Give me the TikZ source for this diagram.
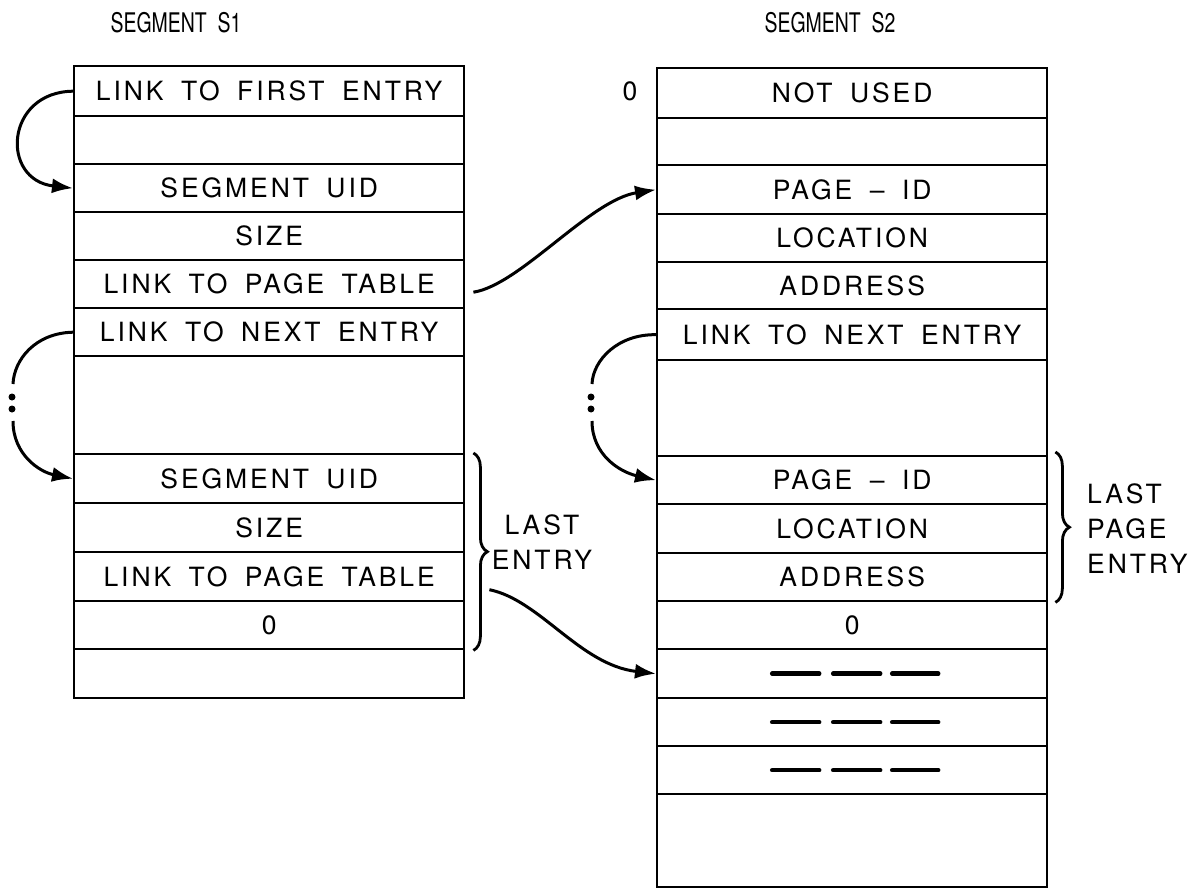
\documentclass[tikz,border=0pt]{standalone}
\usepackage{fontspec}
\setmainfont{TeX Gyre Heros}
\newfontfamily\rowfam[LetterSpace=11,WordSpace=1.7]{TeX Gyre Heros}
\usetikzlibrary{arrows.meta,decorations.pathreplacing,calc}
\begin{document}
\begin{tikzpicture}[x=1pt,y=-1pt,
  row/.style={draw, line width=2.4pt, minimum width=390pt, anchor=north west, inner sep=0pt,
    font=\rowfam\fontsize{26.5}{30}\selectfont},
  lbl/.style={font=\rowfam\fontsize{26.5}{35}\selectfont, inner sep=0pt},
  ttl/.style={font=\fontsize{27}{30}\selectfont, inner sep=0pt},
  link/.style={line width=3pt, -{Latex[length=21pt,width=15pt]}},
  plain/.style={line width=3pt},
  dashbar/.style={line width=4.5pt, line cap=round},
  brc/.style={decorate, decoration={brace, amplitude=14pt}, line width=2.8pt},
  dotmark/.style={circle, fill, inner sep=0pt, minimum size=7pt}
]
\useasboundingbox (0,0) rectangle (1192,888);

% titles
\node[ttl] (t1) at (176,23) {\scalebox{0.72}[1]{SEGMENT\ \ S1}};
\node[ttl] (t2) at (830,23) {\scalebox{0.72}[1]{SEGMENT\ \ S2}};

% segment S1
\node[row, minimum height=50pt] (l1) at (73,65) {LINK TO FIRST ENTRY};
\node[row, minimum height=48pt] (l2) at (73,115) {};
\node[row, minimum height=48pt] (l3) at (73,163) {SEGMENT UID};
\node[row, minimum height=48pt] (l4) at (73,211) {SIZE};
\node[row, minimum height=48pt] (l5) at (73,259) {LINK TO PAGE TABLE};
\node[row, minimum height=48pt] (l6) at (73,307) {LINK TO NEXT ENTRY};
\node[row, minimum height=98pt] (l7) at (73,355) {};
\node[row, minimum height=49pt] (l8) at (73,453) {SEGMENT UID};
\node[row, minimum height=49pt] (l9) at (73,502) {SIZE};
\node[row, minimum height=49pt] (l10) at (73,551) {LINK TO PAGE TABLE};
\node[row, minimum height=48pt] (l11) at (73,600) {0};
\node[row, minimum height=49pt] (l12) at (73,648) {};

% segment S2
\node[row, minimum height=50pt] (r1) at (656,67) {NOT USED};
\node[row, minimum height=47pt] (r2) at (656,117) {};
\node[row, minimum height=49pt] (r3) at (656,164) {PAGE – ID};
\node[row, minimum height=48pt] (r4) at (656,213) {LOCATION};
\node[row, minimum height=47pt] (r5) at (656,261) {ADDRESS};
\node[row, minimum height=51pt] (r6) at (656,308) {LINK TO NEXT ENTRY};
\node[row, minimum height=96pt] (r7) at (656,359) {};
\node[row, minimum height=48pt] (r8) at (656,455) {PAGE – ID};
\node[row, minimum height=49pt] (r9) at (656,503) {LOCATION};
\node[row, minimum height=48pt] (r10) at (656,552) {ADDRESS};
\node[row, minimum height=48pt] (r11) at (656,600) {0};
\node[row, minimum height=49pt] (r12) at (656,648) {};
\node[row, minimum height=48pt] (r13) at (656,697) {};
\node[row, minimum height=48pt] (r14) at (656,745) {};
\node[row, minimum height=93pt] (r15) at (656,793) {};

\node[lbl] (zero) at (630,91) {0};

% dash marks
\foreach \r in {r12,r13,r14}{
  \draw[dashbar] ($(\r.center)+(-80,0)$) -- ($(\r.center)+(-33,0)$);
  \draw[dashbar] ($(\r.center)+(-19,0)$) -- ($(\r.center)+(28,0)$);
  \draw[dashbar] ($(\r.center)+(40,0)$) -- ($(\r.center)+(86,0)$);
}

% braces and labels
\coordinate (b1s) at ($(l8.north east)+(8,0)$);
\coordinate (b1e) at ($(l11.south east)+(8,0)$);
\draw[brc] (b1s) -- (b1e);
\node[lbl, align=center] (lastentry) at (542,542) {LAST\\ENTRY};

\coordinate (b2s) at ($(r8.north east)+(7,-3)$);
\coordinate (b2e) at ($(r10.south east)+(7,0)$);
\draw[brc] (b2s) -- (b2e);
\node[lbl, align=left, anchor=west] (lastpage) at (1087,529) {LAST\\PAGE\\ENTRY};

% links
\draw[link] (l1.west) .. controls (5,92) and (0,180) .. (l3.west);

\coordinate (c1a) at (13,384);
\coordinate (c1b) at (13,421);
\draw[plain] (l6.west) .. controls (35,333) and (14,360) .. (c1a);
\node[dotmark] (d1) at (12,397) {};
\node[dotmark] (d2) at (12,409) {};
\draw[link] (c1b) .. controls (13,455) and (40,472) .. (l8.west);

\coordinate (c2a) at (592,384);
\coordinate (c2b) at (592,421);
\draw[plain] (r6.west) .. controls (618,334) and (593,360) .. (c2a);
\node[dotmark] (d3) at (591,397) {};
\node[dotmark] (d4) at (591,409) {};
\draw[link] (c2b) .. controls (592,455) and (620,472) .. (r8.west);

\coordinate (a3s) at ($(l5.east)+(8,8)$);
\draw[link] (a3s) .. controls (520,285) and (590,200) .. (r3.west);

\coordinate (a4s) at ($(l10.east)+(24,13)$);
\draw[link] (a4s) .. controls (540,600) and (580,665) .. (r12.west);
\end{tikzpicture}
\end{document}
